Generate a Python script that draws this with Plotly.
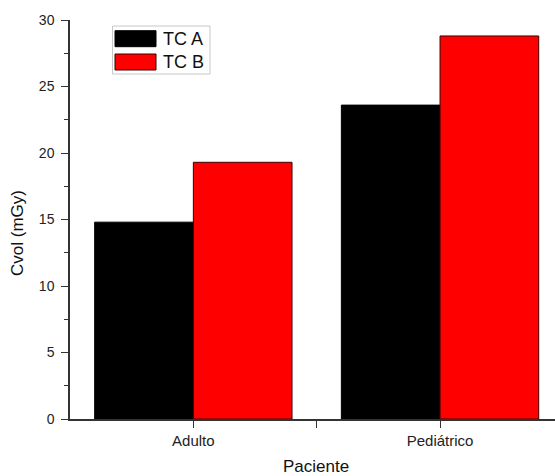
import plotly.graph_objects as go

# Data
categories = ["Adulto", "Pediátrico"]
series_names = ["TC A", "TC B"]
tc_a = [14.8, 23.6]
tc_b = [19.3, 28.8]
y_title = "Cvol (mGy)"
x_title = "Paciente"

FONT = "Liberation Sans, Arial, Helvetica, sans-serif"
xpos = list(range(len(categories)))

fig = go.Figure()
fig.add_trace(go.Bar(x=xpos, y=tc_a, name=series_names[0],
                     marker=dict(color="#000000", line=dict(color="#000000", width=1)),
                     showlegend=False))
fig.add_trace(go.Bar(x=xpos, y=tc_b, name=series_names[1],
                     marker=dict(color="#ff0000", line=dict(color="#3a0000", width=1)),
                     showlegend=False))

# plot area in pixels: x 70..555, y 20..419
L, R, T, B = 70, 555, 20, 419
def px(x):
    return (x - L) / (R - L)
def py(y):
    return (B - y) / (B - T)

shapes = [
    dict(type="rect", xref="paper", yref="paper", x0=px(112.5), x1=px(210), y0=py(74), y1=py(26),
         line=dict(color="#c8c8c8", width=1), fillcolor="white", layer="above"),
    dict(type="rect", xref="paper", yref="paper", x0=px(115), x1=px(156), y0=py(46.7), y1=py(30.7),
         line=dict(color="#000000", width=1), fillcolor="#000000", layer="above"),
    dict(type="rect", xref="paper", yref="paper", x0=px(115), x1=px(156), y0=py(70), y1=py(54),
         line=dict(color="#3a0000", width=1), fillcolor="#ff0000", layer="above"),
]
annotations = [
    dict(text=series_names[0], xref="paper", yref="paper", x=px(161), y=py(39), xanchor="left",
         yanchor="middle", showarrow=False, font=dict(family=FONT, size=18, color="#111")),
    dict(text=series_names[1], xref="paper", yref="paper", x=px(161), y=py(62.5), xanchor="left",
         yanchor="middle", showarrow=False, font=dict(family=FONT, size=18, color="#111")),
    dict(text=y_title, xref="paper", yref="paper", x=px(17), y=py(233), textangle=-90,
         xanchor="center", yanchor="middle", showarrow=False,
         font=dict(family=FONT, size=17, color="#111")),
    dict(text=x_title, xref="paper", yref="paper", x=px(316), y=py(466), xanchor="center",
         yanchor="middle", showarrow=False, font=dict(family=FONT, size=17, color="#111")),
]

tickvals = [0, 0.5, 1]
ticktext = [categories[0], "", categories[1]]

fig.update_layout(
    width=555, height=476,
    margin=dict(l=L, r=555 - R, t=T, b=476 - B, pad=0),
    paper_bgcolor="white", plot_bgcolor="white",
    barmode="group", bargap=0.2, bargroupgap=0,
    font=dict(family=FONT, size=14, color="#111"),
    shapes=shapes, annotations=annotations,
    xaxis=dict(range=[-0.5, 1.466], tickmode="array", tickvals=tickvals, ticktext=ticktext,
               ticks="outside", ticklen=7, tickwidth=1.2, tickcolor="#333",
               showline=True, linecolor="#333", linewidth=1.5, showgrid=False, zeroline=False,
               tickfont=dict(family=FONT, size=15, color="#222")),
    yaxis=dict(range=[0, 30], dtick=5, tick0=0, ticks="outside", ticklen=7, tickwidth=1.2,
               tickcolor="#333", showline=True, linecolor="#333", linewidth=1.5,
               showgrid=False, zeroline=False, ticklabelstandoff=4,
               minor=dict(dtick=2.5, tick0=0, ticks="outside", ticklen=4, tickcolor="#333",
                          showgrid=False),
               tickfont=dict(family=FONT, size=14, color="#222")),
)

fig.write_html("out.html")
